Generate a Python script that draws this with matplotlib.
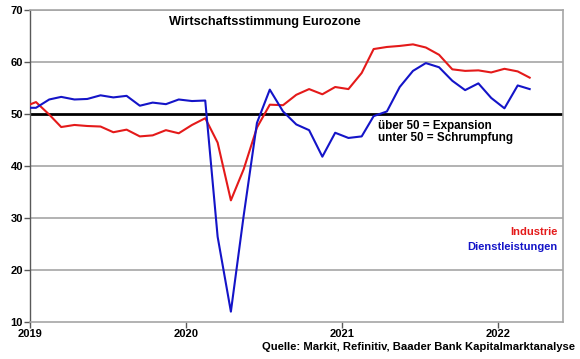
import matplotlib
matplotlib.use("Agg")
import matplotlib.pyplot as plt
import pandas as pd

plt.rcParams["font.family"] = ["Liberation Sans", "DejaVu Sans"]
plt.rcParams["font.weight"] = "bold"

# Monatswerte Dez 2018 - Mär 2022
monate = pd.date_range("2018-12-01", "2022-03-01", freq="MS") + pd.Timedelta(days=14)

industrie = [51.3, 52.3, 49.9, 47.5, 47.9, 47.7, 47.6, 46.5, 47.0, 45.7, 45.9, 46.9, 46.3,
             47.9, 49.2, 44.5, 33.4, 39.4, 47.4, 51.8, 51.7, 53.7, 54.8, 53.8, 55.2,
             54.8, 57.9, 62.5, 62.9, 63.1, 63.4, 62.8, 61.4, 58.6, 58.3, 58.4, 58.0,
             58.7, 58.2, 57.0]
dienstleistungen = [51.2, 51.2, 52.8, 53.3, 52.8, 52.9, 53.6, 53.2, 53.5, 51.6, 52.2, 51.9, 52.8,
                    52.5, 52.6, 26.4, 12.0, 30.5, 48.3, 54.7, 50.5, 48.0, 46.9, 41.8, 46.4,
                    45.4, 45.7, 49.6, 50.5, 55.2, 58.3, 59.8, 59.0, 56.4, 54.6, 55.9, 53.1,
                    51.1, 55.5, 54.8]

jahre = ["2019", "2020", "2021", "2022"]
y_ticks = [10, 20, 30, 40, 50, 60, 70]

fig = plt.figure(figsize=(5.8, 3.59), dpi=100)
ax = fig.add_axes([0.0517, 0.103, 0.9190, 0.869])

for y in y_ticks[1:]:
    if y != 50:
        ax.axhline(y, color="#a6a6a6", lw=1.2, zorder=1)
ax.axhline(50, color="black", lw=2.0, zorder=2)

ax.plot(monate, industrie, color="#e41a1a", lw=1.5, zorder=3)
ax.plot(monate, dienstleistungen, color="#1414c8", lw=1.5, zorder=4)

ax.set_xlim(pd.Timestamp("2019-01-01"), pd.Timestamp("2022-06-01"))
ax.set_ylim(10, 70)
ax.set_yticks(y_ticks)
ax.set_xticks([pd.Timestamp(j + "-01-01") for j in jahre])
ax.set_xticklabels(jahre)
ax.tick_params(axis="both", labelsize=8, direction="out", length=4, width=1,
               colors="#595959", labelcolor="black", pad=1)

for side in ["top", "right", "bottom"]:
    ax.spines[side].set_color("#a6a6a6")
    ax.spines[side].set_linewidth(1.2)
ax.spines["left"].set_color("#595959")
ax.spines["left"].set_linewidth(1.0)

# Titel nicht mittig über der Achse, sondern etwas links davon
fig.text(265 / 580, 1 - 22 / 359, "Wirtschaftsstimmung Eurozone",
         ha="center", va="center", fontsize=9.2, fontweight="bold")
ax.text(pd.Timestamp("2021-03-26"), 48.9, "über 50 = Expansion\nunter 50 = Schrumpfung",
        ha="left", va="top", fontsize=8.4, fontweight="bold", linespacing=1.05)
ax.text(0.99, 0.288, "Industrie", transform=ax.transAxes, ha="right", va="center",
        fontsize=8, fontweight="bold", color="#e41a1a")
ax.text(0.99, 0.240, "Dienstleistungen", transform=ax.transAxes, ha="right", va="center",
        fontsize=8, fontweight="bold", color="#1414c8")
fig.text(0.991, 0.033, "Quelle: Markit, Refinitiv, Baader Bank Kapitalmarktanalyse",
         ha="right", va="center", fontsize=8.1, fontweight="bold")

fig.savefig("out.png", dpi=100)
